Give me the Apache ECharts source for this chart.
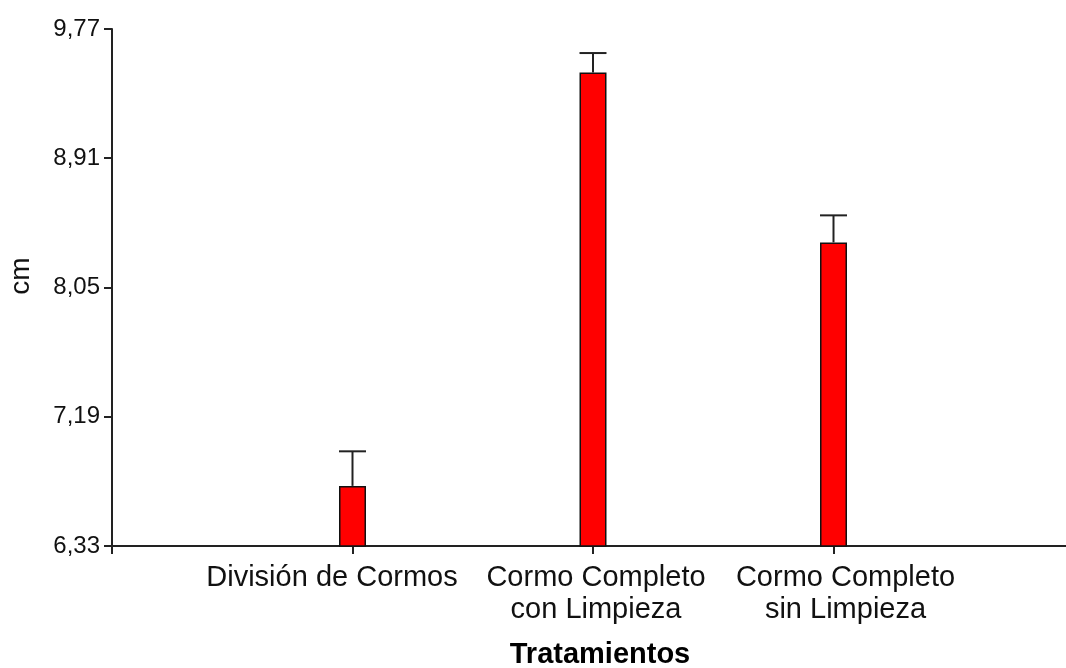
<!DOCTYPE html>
<html>
<head>
<meta charset="utf-8">
<script src="https://cdn.jsdelivr.net/npm/echarts@6/dist/echarts.min.js"></script>
<style>
html,body{margin:0;padding:0;background:#fff;}
#chart{width:1066px;height:668px;}
</style>
</head>
<body>
<div id="chart"></div>
<script>
// Data
var categories = ['División de Cormos', 'Cormo Completo\ncon Limpieza', 'Cormo Completo\nsin Limpieza'];
var means = [6.73, 9.48, 8.35];
var errors = [0.23, 0.13, 0.18];
var yTicks = [6.33, 7.19, 8.05, 8.91, 9.77];
var yTitle = 'cm';
var xTitle = 'Tratamientos';

// horizontal nudges of the category labels (the reference spreads them out)
var labelPads = [[0, 41, 0, 0], [0, 0, 0, 6], [0, 0, 0, 24]];

var axisData = [''].concat(categories.map(function (c, i) {
  return { value: c, textStyle: { padding: labelPads[i] } };
})).concat(['']);
var barData = means.map(function (v, i) { return [i + 1, v]; });
var errData = means.map(function (v, i) { return [i + 1, v, v + errors[i]]; });

var FONT = '"Liberation Sans", Arial, sans-serif';
var TXT = '#111';
var LINE = '#222';

var chart = echarts.init(document.getElementById('chart'));
chart.setOption({
  animation: false,
  backgroundColor: '#fff',
  grid: { left: 112, top: 29, width: 962, bottom: 122, containLabel: false, outerBoundsMode: 'none' },
  xAxis: {
    type: 'category',
    data: axisData,
    boundaryGap: false,
    axisLine: { lineStyle: { color: LINE, width: 2 } },
    axisTick: { show: true, length: 8, lineStyle: { color: LINE, width: 2 } },
    axisLabel: {
      interval: 0,
      margin: 16,
      fontFamily: FONT,
      fontSize: 29,
      lineHeight: 32,
      color: TXT
    },
    splitLine: { show: false }
  },
  yAxis: {
    type: 'value',
    min: yTicks[0],
    max: yTicks[yTicks.length - 1],
    axisLine: { show: true, lineStyle: { color: LINE, width: 2 } },
    axisTick: { show: true, length: 8, customValues: yTicks, lineStyle: { color: LINE, width: 2 } },
    axisLabel: {
      customValues: yTicks,
      margin: 12,
      fontFamily: FONT,
      fontSize: 24,
      color: TXT,
      padding: [0, 0, 4, 0],
      formatter: function (v) { return v.toFixed(2).replace('.', ','); }
    },
    splitLine: { show: false }
  },
  graphic: [
    {
      type: 'text',
      x: 21, y: 276,
      rotation: Math.PI / 2,
      style: { text: yTitle, font: '28px ' + FONT, fill: TXT, textAlign: 'center', textVerticalAlign: 'middle' }
    },
    {
      type: 'text',
      x: 600, y: 655,
      style: { text: xTitle, font: 'bold 29px ' + FONT, fill: '#000', textAlign: 'center', textVerticalAlign: 'middle' }
    }
  ],
  series: [
    {
      type: 'bar',
      data: barData,
      barWidth: 27,
      clip: true,
      itemStyle: { color: '#ff0000', borderColor: '#111', borderWidth: 1.5 },
      z: 2
    },
    {
      type: 'custom',
      data: errData,
      z: 3,
      renderItem: function (params, api) {
        var x = api.value(0);
        var lo = api.coord([x, api.value(1)]);
        var hi = api.coord([x, api.value(2)]);
        var half = 13.5;
        var st = { stroke: LINE, lineWidth: 2 };
        return {
          type: 'group',
          children: [
            { type: 'line', shape: { x1: lo[0], y1: lo[1], x2: hi[0], y2: hi[1] }, style: st },
            { type: 'line', shape: { x1: hi[0] - half, y1: hi[1], x2: hi[0] + half, y2: hi[1] }, style: st }
          ]
        };
      }
    }
  ]
});
</script>
</body>
</html>
